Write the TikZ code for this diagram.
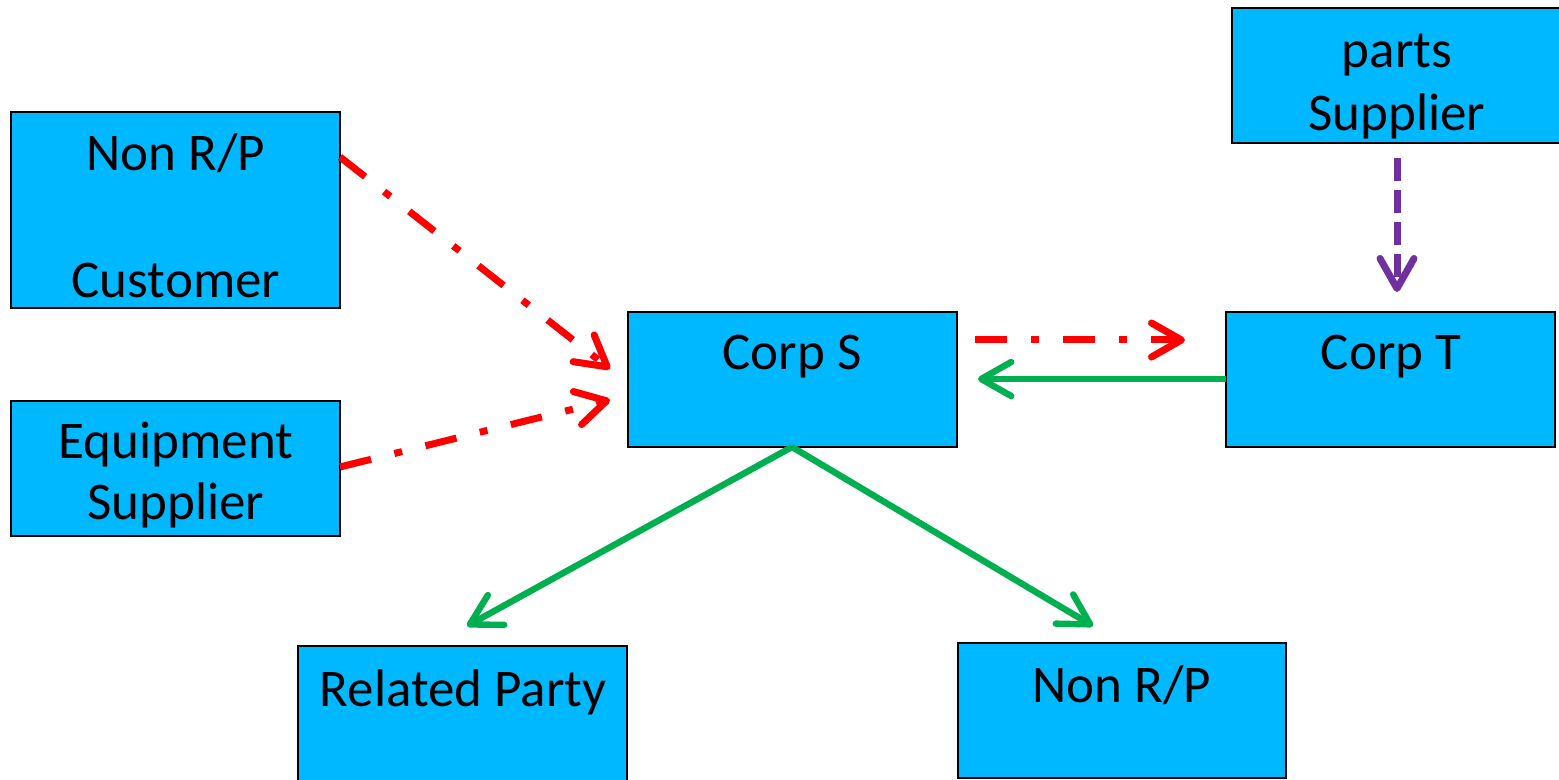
\documentclass[tikz,border=0pt]{standalone}
\usepackage{fontspec}
\setmainfont{Carlito}
\usetikzlibrary{arrows.meta}
\definecolor{boxblue}{RGB}{0,184,255}
\definecolor{rred}{RGB}{255,0,0}
\definecolor{ggreen}{RGB}{0,176,80}
\definecolor{ppurple}{RGB}{112,48,160}
\tikzset{
  box/.style={draw=black, line width=1pt, fill=boxblue, anchor=north west, inner sep=0pt, outer sep=0pt},
  lbl/.style={anchor=base, inner sep=0pt, font=\fontsize{26.5}{32}\selectfont},
  tip/.style={-{Straight Barb[round, length=15pt, width=17pt]}},
  reddash/.style={tip, draw=rred, line width=3.5pt, dash pattern=on 16pt off 12pt on 4pt off 12pt},
  greenline/.style={tip, draw=ggreen, line width=3.2pt},
  purpledash/.style={tip, draw=ppurple, line width=3.5pt, dash pattern=on 11.5pt off 4.5pt},
}
\begin{document}
\begin{tikzpicture}[x=0.5pt,y=-0.5pt]
\useasboundingbox (0,0) rectangle (1559,780);
% boxes
\node[box, minimum width=164.5pt, minimum height=98pt] (cust) at (11,112) {};
\node[box, minimum width=164.5pt, minimum height=67.5pt] (equip) at (11,401) {};
\node[box, minimum width=164.5pt, minimum height=67.5pt] (corps) at (628,312) {};
\node[box, minimum width=164.5pt, minimum height=67.5pt] (corpt) at (1226,312) {};
\node[box, minimum width=165pt, minimum height=67.5pt] (parts) at (1232,8) {};
\node[box, minimum width=164.5pt, minimum height=69pt] (related) at (298,646) {};
\node[box, minimum width=164pt, minimum height=67.5pt] (nonrp) at (958,643) {};
% labels
\node[lbl] (l1) at (176,171) {Non R/P};
\node[lbl] (l2) at (176,298) {Customer};
\node[lbl] (l3) at (176,459) {Equipment};
\node[lbl] (l4) at (176,520) {Supplier};
\node[lbl] (l5) at (792,370) {Corp S};
\node[lbl] (l6) at (1391,370) {Corp T};
\node[lbl] (l7) at (1397,68) {parts};
\node[lbl] (l8) at (1397,131) {Supplier};
\node[lbl] (l9) at (463,706) {Related Party};
\node[lbl] (l10) at (1122,702) {Non R/P};
% connector end points
\coordinate (c1s) at (340,157);
\coordinate (c1e) at (610,369);
\coordinate (c2s) at (340,467);
\coordinate (c2e) at (610,400);
\coordinate (c3s) at (975,340);
\coordinate (c3e) at (1185,340);
\coordinate (c4s) at (1226,379);
\coordinate (c4e) at (978,379);
\coordinate (c5s) at (1397,158);
\coordinate (c5e) at (1397,292);
\coordinate (c6s) at (792,447);
\coordinate (c6e) at (467,626);
\coordinate (c7e) at (1093,626);
% connectors
\draw[reddash] (c1s) -- (c1e);
\draw[reddash] (c2s) -- (c2e);
\draw[reddash] (c3s) -- (c3e);
\draw[greenline] (c4s) -- (c4e);
\draw[purpledash] (c5s) -- (c5e);
\draw[greenline] (c6s) -- (c6e);
\draw[greenline] (c6s) -- (c7e);
\end{tikzpicture}
\end{document}
